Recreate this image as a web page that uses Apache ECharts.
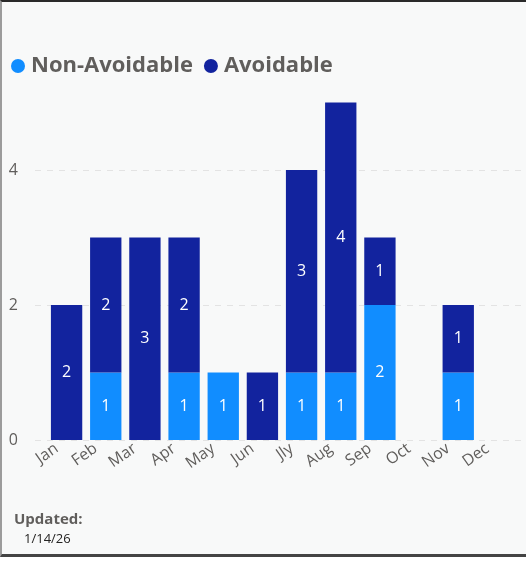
<!DOCTYPE html>
<html>
<head>
<meta charset="utf-8">
<script src="https://cdn.jsdelivr.net/npm/echarts@6/dist/echarts.min.js"></script>
<style>
  html, body { margin: 0; padding: 0; background: #ffffff; }
  #chart {
    position: absolute; left: 0; top: 0;
    width: 526px; height: 557px;
    box-sizing: border-box;
    background: #f8f9f9;
    border-top: 2px solid #2a2a2a;
    border-left: 2px solid #9c9c9c;
    border-bottom: 3px solid #444444;
  }
</style>
</head>
<body>
<div id="chart"></div>
<script>
// data
const months = ['Jan', 'Feb', 'Mar', 'Apr', 'May', 'Jun', 'Jly', 'Aug', 'Sep', 'Oct', 'Nov', 'Dec']
const nonAvoidable = [0, 1, 0, 1, 1, 0, 1, 1, 2, 0, 1, 0]
const avoidable = [2, 2, 3, 2, 0, 1, 3, 4, 1, 0, 1, 0]
const yTicks = { min: 0, max: 5, interval: 2 }

const font = '"Open Sans", "Noto Sans", sans-serif'
const grey = '#605e5c'

const myChart = echarts.init(document.getElementById('chart'))

// hide 0 labels on empty stacks
const labelFmt = p => (p.value ? String(p.value) : '')

const option = {
  animation: false,
  title: [
    {
      text: 'Updated:',
      left: 7, top: 505,
      textStyle: { fontFamily: font, fontSize: 15, fontWeight: 'bold', color: grey }
    },
    {
      text: '1/14/26',
      left: 17, top: 526,
      textStyle: { fontFamily: font, fontSize: 13, fontWeight: 'normal', color: '#252423' }
    }
  ],
  legend: {
    left: 4,
    top: 48,
    icon: 'circle',
    itemWidth: 14,
    itemHeight: 14,
    itemGap: 11,
    textStyle: { fontFamily: font, fontSize: 22, fontWeight: 'bold', color: grey, padding: [0, 0, 0, 1] },
    data: ['Non-Avoidable', 'Avoidable']
  },
  grid: [
    { left: 45, right: 9, top: 100.5, bottom: 114 },   // bars
    { left: 33, right: 0, top: 100.5, bottom: 114 },   // gridlines + y labels
    { left: 35, right: 19, top: 100.5, bottom: 114 }   // x labels
  ],
  xAxis: [
    {
      gridIndex: 0, type: 'category', data: months,
      axisLine: { show: false }, axisTick: { show: false }, axisLabel: { show: false }
    },
    {
      gridIndex: 1, type: 'value', show: false, min: 0, max: 1
    },
    {
      gridIndex: 2, type: 'category', data: months,
      axisLine: { show: false }, axisTick: { show: false },
      axisLabel: {
        rotate: 35, margin: 7, interval: 0,
        fontFamily: font, fontSize: 16, color: grey
      }
    }
  ],
  yAxis: [
    {
      gridIndex: 0, type: 'value', ...yTicks,
      axisLine: { show: false }, axisTick: { show: false },
      axisLabel: { show: false }, splitLine: { show: false }
    },
    {
      gridIndex: 1, type: 'value', ...yTicks,
      axisLine: { show: false }, axisTick: { show: false },
      axisLabel: {
        margin: 17, fontFamily: font, fontSize: 16, color: grey,
        showMaxLabel: false
      },
      splitLine: {
        show: true, showMaxLine: false,
        lineStyle: { color: '#e3e3e3', type: [6, 6], width: 1 }
      }
    },
    {
      gridIndex: 2, type: 'value', show: false, ...yTicks
    }
  ],
  series: [
    {
      name: 'Non-Avoidable',
      type: 'bar',
      stack: 'total',
      xAxisIndex: 0, yAxisIndex: 0,
      barWidth: '80%',
      itemStyle: { color: '#118dff' },
      label: {
        show: true, position: 'inside', formatter: labelFmt,
        color: '#ffffff', fontFamily: font, fontSize: 16
      },
      data: nonAvoidable
    },
    {
      name: 'Avoidable',
      type: 'bar',
      stack: 'total',
      xAxisIndex: 0, yAxisIndex: 0,
      barWidth: '80%',
      itemStyle: { color: '#12239e' },
      label: {
        show: true, position: 'inside', formatter: labelFmt,
        color: '#ffffff', fontFamily: font, fontSize: 16
      },
      data: avoidable
    },
    // dummy series so the extra grids get drawn
    {
      type: 'bar', xAxisIndex: 2, yAxisIndex: 2, silent: true,
      data: [], itemStyle: { opacity: 0 }
    },
    {
      type: 'line', xAxisIndex: 1, yAxisIndex: 1, silent: true,
      data: [], showSymbol: false
    }
  ]
}

myChart.setOption(option)
</script>
</body>
</html>
